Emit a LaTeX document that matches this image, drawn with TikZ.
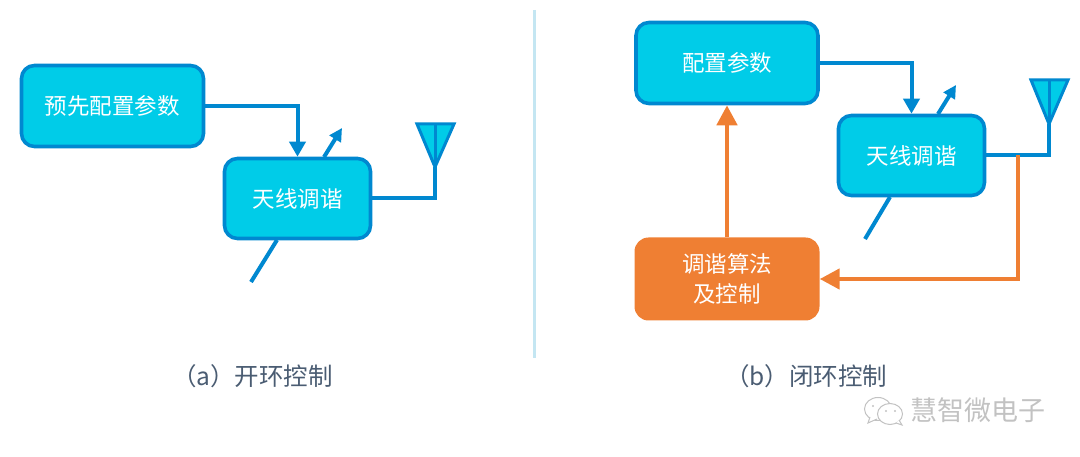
\documentclass[tikz,border=0pt]{standalone}
\usepackage{fontspec}
\setmainfont{Noto Sans CJK SC}
\usetikzlibrary{arrows.meta,calc}
\definecolor{boxfill}{HTML}{00CCE8}
\definecolor{boxline}{HTML}{0088D0}
\definecolor{orangeb}{HTML}{EF7F33}
\definecolor{capt}{HTML}{4A5C72}
\definecolor{divline}{HTML}{C4E6F2}
\definecolor{wmark}{HTML}{C2C2C2}
\tikzset{
  bluebox/.style={draw=boxline,fill=boxfill,line width=3.6pt,rounded corners=13pt,text=white,align=center,font=\fontsize{22.5}{28}\selectfont,inner sep=0pt},
  orangebox/.style={fill=orangeb,rounded corners=14pt,text=white,align=center,font=\fontsize{22.5}{30}\selectfont,inner sep=0pt},
  blueline/.style={draw=boxline,line width=4pt},
  bluearrow/.style={blueline,-{Triangle[length=15pt,width=16pt]}},
  smallarrow/.style={blueline,-{Triangle[length=13pt,width=13pt]}},
  orangearrow/.style={draw=orangeb,line width=4.6pt,-{Triangle[length=20pt,width=20pt]}},
  antenna/.style={draw=boxline,fill=boxfill,line width=3pt,line join=miter},
  captionlabel/.style={text=capt,font=\fontsize{24.5}{28}\selectfont,inner sep=0pt},
  wmtext/.style={text=wmark,font=\fontsize{27}{30}\selectfont,inner sep=0pt},
  bubble/.style={draw=wmark,fill=white,line width=1pt}
}
\begin{document}
\begin{tikzpicture}[x=1pt,y=-1pt]
\useasboundingbox (0,0) rectangle (1080,457);
% divider
\coordinate (divtop) at (534,10);
\coordinate (divbot) at (534,358);
\draw[divline,line width=3pt] (divtop) -- (divbot);

% ---- (a)
\node[bluebox,minimum width=182pt,minimum height=81pt] (pre) at (112.5,106) {预先配置参数};
\node[bluebox,minimum width=146pt,minimum height=80pt] (tunea) at (297.5,198.5) {天线调谐};
\coordinate (anta) at (435,167);
\coordinate (upa1) at (324,157);
\coordinate (upa2) at (342,128);
\coordinate (dna1) at (277,240);
\coordinate (dna2) at (251,282);
\draw[bluearrow] (pre.east) -| (tunea.north);
\draw[smallarrow] (upa1) -- (upa2);
\draw[blueline] (dna1) -- (dna2);
\draw[blueline] (tunea.east) -| (anta);
\draw[antenna] (417,124) -- (454,124) -- (anta) -- cycle;
\draw[blueline,line width=3pt] (435,124) -- (anta);
\node[captionlabel,anchor=base west] (capa) at (172,385) {（a）开环控制};

% ---- (b)
\node[bluebox,minimum width=182pt,minimum height=81pt] (cfg) at (727,63) {配置参数};
\node[bluebox,minimum width=146pt,minimum height=80pt] (tuneb) at (911.5,155.5) {天线调谐};
\node[orangebox,minimum width=185pt,minimum height=83pt] (algo) at (727,279) {调谐算法\\及控制};
\coordinate (antb) at (1049,124);
\coordinate (upb1) at (938,114);
\coordinate (upb2) at (956,85);
\coordinate (dnb1) at (890,197);
\coordinate (dnb2) at (865,239);
\coordinate (tap) at (1018,155.5);
\draw[bluearrow] (cfg.east) -| (tuneb.north);
\draw[smallarrow] (upb1) -- (upb2);
\draw[blueline] (dnb1) -- (dnb2);
\draw[blueline] (tuneb.east) -| (antb);
\draw[antenna] (1031,80) -- (1068,80) -- (antb) -- cycle;
\draw[blueline,line width=3pt] (1049,80) -- (antb);
\draw[orangearrow] (algo.north) -- (cfg.south);
\draw[orangearrow] (tap) |- (algo.east);
\node[captionlabel,anchor=base west] (capb) at (725,385) {（b）闭环控制};

% ---- watermark
\draw[bubble] (878,409) ellipse (13.5pt and 11.5pt);
\draw[bubble] (870,417) -- (868,423) -- (877,419);
\fill[wmark] (873,406) circle (1.2pt) (884,406) circle (1.2pt);
\draw[bubble] (890,414) ellipse (12.5pt and 10.5pt);
\draw[bubble] (896,423) -- (902,425) -- (899,420);
\fill[wmark] (886,411) circle (1.1pt) (895,411) circle (1.1pt);
\node[wmtext,anchor=west] (wm) at (910,410) {慧智微电子};
\end{tikzpicture}
\end{document}
